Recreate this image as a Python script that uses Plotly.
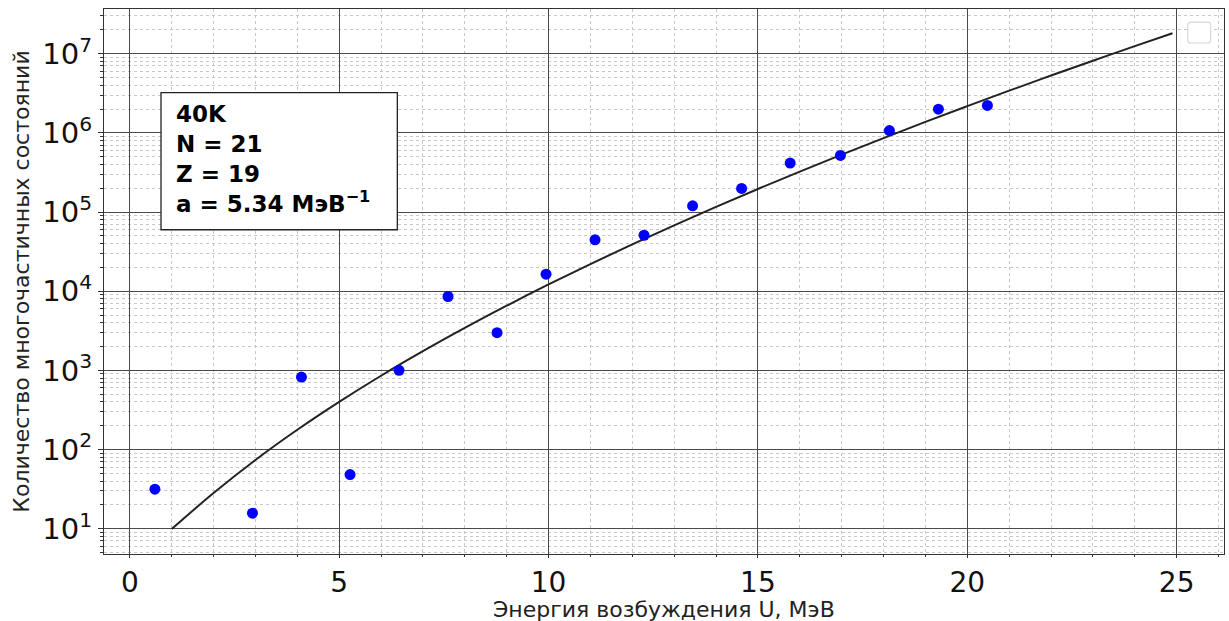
import plotly.graph_objects as go

# Experimental points (excitation energy U, MeV ; number of many-particle states)
u_points = [0.60, 2.93, 4.10, 5.26, 6.43, 7.60, 8.77, 9.94, 11.11, 12.28,
            13.44, 14.61, 15.77, 16.97, 18.14, 19.31, 20.48]
n_points = [31.5, 15.7, 822, 48.3, 1000, 8570, 2990, 16400, 44600, 50900,
            120000, 199000, 416000, 519000, 1070000, 1990000, 2220000]

# Level-density curve
u_curve = [1, 2, 3, 4, 5, 6, 7, 8, 9, 10, 11, 12, 13, 14, 15, 16, 17, 18, 19,
           20, 21, 22, 23, 24, 24.9]
n_curve = [9.89, 28.2, 73.8, 177.6, 400, 855, 1746, 3436, 6553, 12160, 22030,
           39080, 67920, 116100, 195650, 324700, 531600, 860100, 1375300,
           2177000, 3413000, 5302000, 8160000, 12465000, 18130000]

x_ticks = [0, 5, 10, 15, 20, 25]
y_tickvals = [1e1, 1e2, 1e3, 1e4, 1e5, 1e6, 1e7]
y_ticktext = ["10<sup>%d</sup>" % k for k in range(1, 8)]

x_title = "Энергия возбуждения U, МэВ"
y_title = "Количество многочастичных состояний"
info_lines = ["40K", "N = 21", "Z = 19", "a = 5.34 МэВ<sup>−1</sup>"]

FONT = "DejaVu Sans"

fig = go.Figure()
fig.add_trace(go.Scatter(x=u_curve, y=n_curve, mode="lines",
                         line=dict(color="#222222", width=2, shape="spline"),
                         showlegend=False))
fig.add_trace(go.Scatter(x=u_points, y=n_points, mode="markers",
                         marker=dict(color="#0000ff", size=11),
                         showlegend=False))

grid_major = "#4a4a4a"
grid_minor = "#c8c8c8"

fig.update_xaxes(
    range=[-0.616, 26.13], tickmode="array", tickvals=x_ticks,
    ticks="outside", ticklen=3, tickcolor="#333", tickwidth=1,
    tickfont=dict(family=FONT, size=28, color="#111"),
    showgrid=True, gridcolor=grid_major, gridwidth=1,
    minor=dict(dtick=1, showgrid=True, gridcolor=grid_minor, griddash="dot",
               gridwidth=1, ticks="outside", ticklen=2, tickcolor="#333"),
    showline=True, linecolor="#333", linewidth=1.2, mirror=True,
    zeroline=False, automargin=False,
)
fig.update_yaxes(
    type="log", range=[0.68, 7.565], tickmode="array",
    tickvals=y_tickvals, ticktext=y_ticktext,
    ticks="outside", ticklen=5, tickcolor="#333", tickwidth=1,
    tickfont=dict(family=FONT, size=29, color="#111"),
    showgrid=True, gridcolor=grid_major, gridwidth=1,
    minor=dict(dtick="D1", showgrid=True, gridcolor=grid_minor, griddash="dot",
               gridwidth=1, ticks="outside", ticklen=3, tickcolor="#333"),
    showline=True, linecolor="#333", linewidth=1.2, mirror=True,
    zeroline=False, automargin=False,
    title=dict(text=y_title,
               font=dict(family=FONT, size=22, color="#222"), standoff=6),
)

# x-axis title
fig.add_annotation(
    xref="paper", yref="paper", x=0.5, y=-0.102,
    xanchor="center", yanchor="middle", showarrow=False,
    text=x_title, font=dict(family=FONT, size=22, color="#222"),
)

# info box frame
fig.add_shape(type="rect", xref="paper", yref="paper",
              x0=0.0509, x1=0.2619, y0=0.5950, y1=0.8464,
              line=dict(color="#222", width=1.3), fillcolor="white",
              layer="above")
fig.add_annotation(
    xref="paper", yref="paper", x=0.0625, y=0.724,
    xanchor="left", yanchor="middle", align="left", showarrow=False,
    text="<br>".join("<b>%s</b>" % s for s in info_lines),
    font=dict(family=FONT, size=23, color="#000"),
)

# empty legend frame (as in the original)
x0, x1, y0, y1 = 0.9676, 0.9881, 0.9376, 0.976
rx, ry = 0.003, 0.006
path = (f"M {x0+rx},{y0} L {x1-rx},{y0} Q {x1},{y0} {x1},{y0+ry} "
        f"L {x1},{y1-ry} Q {x1},{y1} {x1-rx},{y1} L {x0+rx},{y1} "
        f"Q {x0},{y1} {x0},{y1-ry} L {x0},{y0+ry} Q {x0},{y0} {x0+rx},{y0} Z")
fig.add_shape(type="path", path=path, xref="paper", yref="paper",
              line=dict(color="#d8d8d8", width=1.2), fillcolor="white")

fig.update_layout(
    width=1229, height=621,
    margin=dict(l=104, r=5, t=9, b=67),
    paper_bgcolor="white", plot_bgcolor="white",
    font=dict(family=FONT),
    showlegend=False,
)

fig.write_html("out.html")
